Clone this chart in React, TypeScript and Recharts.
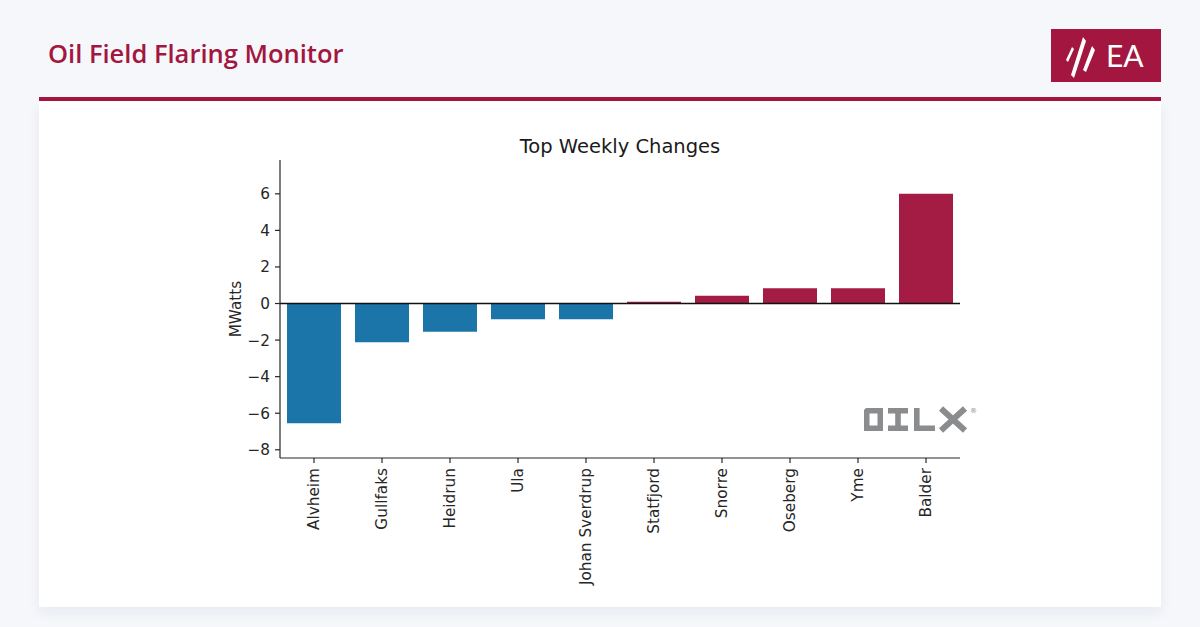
import React from 'react';
import { BarChart, Bar, XAxis, YAxis, ReferenceLine, Cell } from 'recharts';

const fields = ['Alvheim', 'Gullfaks', 'Heidrun', 'Ula', 'Johan Sverdrup', 'Statfjord', 'Snorre', 'Oseberg', 'Yme', 'Balder'];
const changes = [-6.55, -2.12, -1.55, -0.86, -0.86, 0.1, 0.42, 0.84, 0.84, 6.0];
const yTicks = [-8, -6, -4, -2, 0, 2, 4, 6];

const data = fields.map((f, i) => ({ field: f, change: changes[i] }));

const BRAND = '#a3163f';
const BLUE = '#1b75a8';
const FONT = 'DejaVu Sans';
const LOGO_GREY = '#8a8c8e';

const XTick = (props: any) => {
  const { x, y, payload } = props;
  return (
    <text
      x={x}
      y={y}
      transform={`rotate(-90 ${x} ${y})`}
      textAnchor="end"
      dy="0.355em"
      fontFamily={FONT}
      fontSize={15.3}
      fill="#262626"
    >
      {payload.value}
    </text>
  );
};

const fmtY = (v: number) => String(v).replace('-', '\u2212');

export default function App() {
  return (
    <div style={{ position: 'fixed', left: 0, top: 0, width: 1200, height: 627, background: '#f5f7fb', overflow: 'hidden' }}>
      <div style={{ position: 'absolute', left: 39, top: 97, width: 1122, height: 4, background: BRAND }} />
      <div
        style={{
          position: 'absolute',
          left: 39,
          top: 101,
          width: 1122,
          height: 506,
          background: '#ffffff',
          boxShadow: '0 6px 12px rgba(20,30,60,0.06)',
        }}
      />
      <div style={{ position: 'absolute', left: 0, top: 0 }}>
        <BarChart
          width={1200}
          height={627}
          data={data}
          margin={{ top: 160, right: 240, left: 220, bottom: 39 }}
          barCategoryGap={7}
        >
          <XAxis
            dataKey="field"
            height={130}
            interval={0}
            tick={<XTick />}
            tickSize={5}
            tickMargin={5}
            axisLine={{ stroke: '#262626', strokeWidth: 1.2 }}
            tickLine={{ stroke: '#262626', strokeWidth: 1.2 }}
          />
          <YAxis
            width={60}
            domain={[-8.45, 7.85]}
            ticks={yTicks}
            allowDataOverflow
            tickFormatter={fmtY}
            tickSize={5}
            tickMargin={5}
            tick={{ fontFamily: FONT, fontSize: 15.3, fill: '#262626' }}
            axisLine={{ stroke: '#262626', strokeWidth: 1.2 }}
            tickLine={{ stroke: '#262626', strokeWidth: 1.2 }}
          />
          <Bar dataKey="change" isAnimationActive={false}>
            {data.map((d, i) => (
              <Cell key={i} fill={d.change < 0 ? BLUE : '#a41b43'} />
            ))}
          </Bar>
          <ReferenceLine y={0} stroke="#111" strokeWidth={1.6} />
        </BarChart>
      </div>
      <svg width={1200} height={627} style={{ position: 'absolute', left: 0, top: 0, pointerEvents: 'none' }}>
        <text x={48} y={63} fontFamily="Open Sans" fontWeight={600} fontSize={25.5} fill={BRAND}>
          Oil Field Flaring Monitor
        </text>
        <rect x={1051} y={29} width={110} height={53} fill={BRAND} />
        <polygon points="1066,60 1072,47 1074,49 1068,62" fill="#fff" />
        <polygon points="1071,75 1083,37 1086,41 1074,78" fill="#fff" />
        <polygon points="1083,70 1092,46 1095,50 1086,72" fill="#fff" />
        <text x={1106} y={67} fontFamily="Lato" fontWeight={400} fontSize={30} fill="#fff">
          EA
        </text>
        <text x={620} y={153} textAnchor="middle" fontFamily={FONT} fontSize={19.5} fill="#1a1a1a">
          Top Weekly Changes
        </text>
        <text
          x={241}
          y={309}
          transform="rotate(-90 241 309)"
          textAnchor="middle"
          fontFamily={FONT}
          fontSize={15.3}
          fill="#262626"
        >
          MWatts
        </text>
        {/* OILX logo */}
        <g fill={LOGO_GREY} stroke="none">
          <path d="M864,410 L866,408 L883,408 L883,431 L864,431 Z M869.5,413.5 L869.5,425.5 L877.5,425.5 L877.5,413.5 Z" fillRule="evenodd" />
          <rect x={888} y={408} width={20} height={5.5} />
          <rect x={895.2} y={408} width={5.6} height={23} />
          <rect x={888} y={425.5} width={20} height={5.5} />
          <rect x={914} y={408} width={5.6} height={23} />
          <rect x={914} y={425.5} width={21} height={5.5} />
        </g>
        <g stroke={LOGO_GREY} strokeWidth={6} strokeLinecap="butt">
          <line x1={941} y1={408.5} x2={965} y2={430.5} />
          <line x1={965} y1={408.5} x2={941} y2={430.5} />
        </g>
        <text x={970} y={413} fontFamily={FONT} fontSize={7} fill={LOGO_GREY}>
          ®
        </text>
      </svg>
    </div>
  );
}
